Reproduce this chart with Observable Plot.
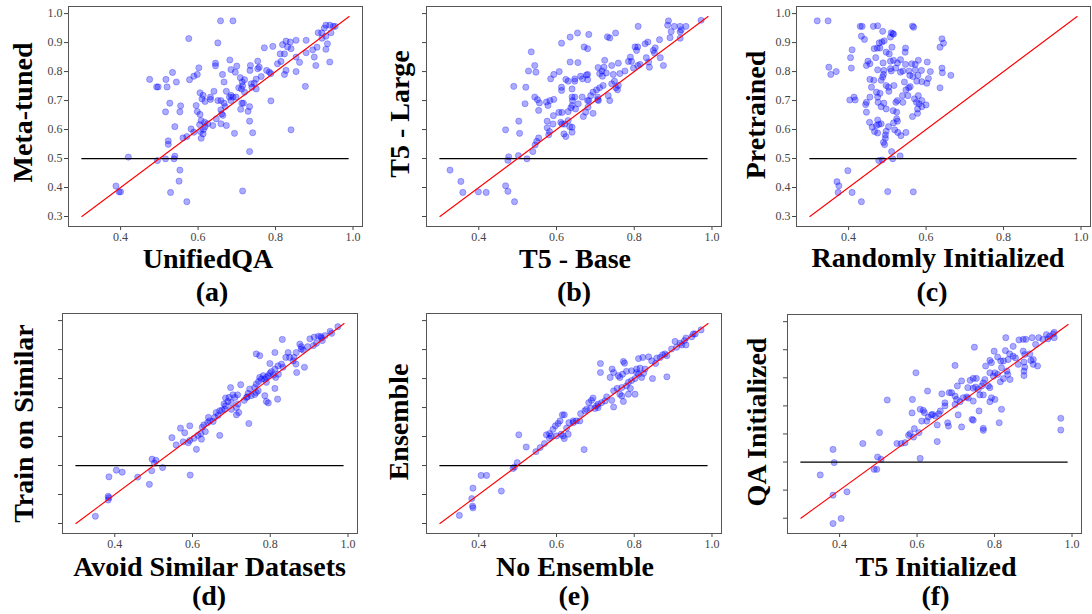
<!DOCTYPE html>
<html>
<head>
<meta charset="utf-8">
<script src="https://cdn.jsdelivr.net/npm/d3@7"></script>
<script src="https://cdn.jsdelivr.net/npm/@observablehq/plot@0.6"></script>
<style>
  html, body { margin: 0; padding: 0; background: #fff; }
  #chart { position: relative; width: 1092px; height: 614px; overflow: hidden; background: #fff; }
  .panel { position: absolute; }
  #labels { position: absolute; left: 0; top: 0; pointer-events: none; }
  #labels text { font-family: "Liberation Serif", "Times New Roman", serif; font-weight: bold; font-size: 28px; fill: #000; }
</style>
</head>
<body>
<div id="chart"></div>
<script>
// ---------- labels ----------
const xLabels = ["UnifiedQA", "T5 - Base", "Randomly Initialized", "Avoid Similar Datasets", "No Ensemble", "T5 Initialized"];
const yLabels = ["Meta-tuned", "T5 - Large", "Pretrained", "Train on Similar", "Ensemble", "QA Initialized"];
const captions = ["(a)", "(b)", "(c)", "(d)", "(e)", "(f)"];
const xTicks = [0.4, 0.6, 0.8, 1.0];
const yTicks = [0.3, 0.4, 0.5, 0.6, 0.7, 0.8, 0.9, 1.0];
const diagonal = [[0.3, 0.3], [0.99, 0.99]];
const chance = 0.5;
const chanceSpan = [0.3, 0.99];

// ---------- data: [x, y] per task ----------
const aPoints = [[0.658,0.975],[0.69,0.975],[0.576,0.914],[0.651,0.899],[0.475,0.773],[0.493,0.747],[0.497,0.747],[0.517,0.773],[0.52,0.747],[0.534,0.797],[0.544,0.764],[0.527,0.691],[0.516,0.661],[0.553,0.661],[0.555,0.682],[0.54,0.61],[0.523,0.561],[0.523,0.549],[0.54,0.508],[0.538,0.499],[0.516,0.499],[0.495,0.493],[0.42,0.505],[0.388,0.405],[0.396,0.385],[0.4,0.385],[0.529,0.383],[0.553,0.46],[0.551,0.422],[0.571,0.351],[0.715,0.388],[0.733,0.524],[0.84,0.599],[0.788,0.699],[0.877,0.749],[0.578,0.772],[0.589,0.784],[0.598,0.79],[0.602,0.813],[0.645,0.829],[0.645,0.82],[0.663,0.79],[0.682,0.84],[0.685,0.807],[0.7,0.819],[0.696,0.798],[0.709,0.779],[0.72,0.772],[0.734,0.804],[0.735,0.821],[0.754,0.836],[0.758,0.815],[0.771,0.882],[0.793,0.887],[0.805,0.827],[0.788,0.793],[0.777,0.804],[0.745,0.76],[0.737,0.758],[0.763,0.783],[0.784,0.798],[0.814,0.835],[0.818,0.893],[0.827,0.905],[0.838,0.902],[0.84,0.879],[0.831,0.885],[0.853,0.908],[0.823,0.861],[0.812,0.861],[0.823,0.79],[0.827,0.804],[0.853,0.8],[0.853,0.85],[0.862,0.832],[0.879,0.908],[0.879,0.865],[0.896,0.875],[0.9,0.85],[0.907,0.884],[0.904,0.821],[0.93,0.877],[0.934,0.896],[0.94,0.833],[0.91,0.934],[0.919,0.934],[0.926,0.95],[0.93,0.96],[0.94,0.96],[0.949,0.956],[0.943,0.934],[0.93,0.922],[0.954,0.956],[0.92,0.915],[0.561,0.571],[0.571,0.576],[0.582,0.602],[0.589,0.591],[0.608,0.57],[0.606,0.593],[0.614,0.6],[0.598,0.662],[0.595,0.683],[0.605,0.652],[0.605,0.727],[0.613,0.718],[0.61,0.706],[0.618,0.697],[0.617,0.625],[0.618,0.61],[0.608,0.631],[0.604,0.617],[0.632,0.712],[0.632,0.704],[0.641,0.732],[0.651,0.7],[0.659,0.7],[0.647,0.637],[0.659,0.62],[0.659,0.668],[0.661,0.654],[0.664,0.649],[0.667,0.691],[0.67,0.679],[0.673,0.732],[0.667,0.764],[0.681,0.712],[0.685,0.7],[0.69,0.712],[0.694,0.587],[0.698,0.712],[0.705,0.744],[0.715,0.751],[0.714,0.764],[0.71,0.67],[0.713,0.691],[0.717,0.691],[0.72,0.729],[0.729,0.663],[0.733,0.679],[0.733,0.629],[0.741,0.589],[0.739,0.746],[0.75,0.74],[0.75,0.774],[0.754,0.81],[0.712,0.74],[0.638,0.614],[0.625,0.62],[0.613,0.585],[0.673,0.614],[0.685,0.718]];

const bPoints = [[0.972,0.977],[0.888,0.975],[0.886,0.96],[0.903,0.956],[0.918,0.956],[0.933,0.956],[0.895,0.938],[0.918,0.937],[0.921,0.944],[0.892,0.917],[0.918,0.915],[0.81,0.956],[0.865,0.91],[0.854,0.882],[0.849,0.873],[0.835,0.902],[0.828,0.896],[0.802,0.885],[0.809,0.885],[0.806,0.873],[0.852,0.864],[0.867,0.848],[0.875,0.821],[0.839,0.815],[0.837,0.833],[0.831,0.848],[0.815,0.825],[0.809,0.821],[0.798,0.812],[0.79,0.85],[0.785,0.835],[0.793,0.835],[0.776,0.802],[0.763,0.793],[0.759,0.829],[0.752,0.933],[0.737,0.916],[0.731,0.92],[0.724,0.839],[0.722,0.815],[0.717,0.802],[0.707,0.814],[0.711,0.793],[0.728,0.795],[0.742,0.821],[0.746,0.79],[0.749,0.767],[0.742,0.758],[0.759,0.752],[0.753,0.744],[0.757,0.737],[0.72,0.752],[0.711,0.744],[0.703,0.737],[0.694,0.729],[0.688,0.717],[0.706,0.712],[0.708,0.7],[0.733,0.717],[0.737,0.7],[0.718,0.784],[0.677,0.788],[0.68,0.772],[0.68,0.79],[0.667,0.775],[0.662,0.784],[0.647,0.775],[0.647,0.767],[0.63,0.767],[0.624,0.773],[0.613,0.746],[0.613,0.735],[0.64,0.74],[0.64,0.712],[0.647,0.712],[0.666,0.712],[0.68,0.7],[0.683,0.7],[0.681,0.677],[0.675,0.66],[0.669,0.645],[0.694,0.656],[0.656,0.689],[0.641,0.7],[0.64,0.683],[0.637,0.675],[0.649,0.671],[0.63,0.662],[0.614,0.659],[0.606,0.659],[0.592,0.648],[0.611,0.625],[0.614,0.619],[0.63,0.631],[0.621,0.619],[0.634,0.61],[0.64,0.608],[0.64,0.591],[0.619,0.585],[0.624,0.576],[0.591,0.619],[0.576,0.629],[0.576,0.606],[0.582,0.593],[0.58,0.582],[0.554,0.571],[0.549,0.559],[0.545,0.547],[0.539,0.524],[0.503,0.629],[0.505,0.587],[0.469,0.599],[0.477,0.506],[0.475,0.494],[0.502,0.51],[0.524,0.499],[0.49,0.749],[0.521,0.746],[0.519,0.689],[0.528,0.802],[0.535,0.868],[0.544,0.821],[0.547,0.798],[0.544,0.712],[0.551,0.703],[0.556,0.692],[0.554,0.666],[0.574,0.695],[0.578,0.683],[0.583,0.7],[0.593,0.704],[0.585,0.775],[0.593,0.79],[0.607,0.8],[0.613,0.898],[0.635,0.919],[0.654,0.933],[0.683,0.928],[0.671,0.885],[0.68,0.879],[0.635,0.833],[0.655,0.831],[0.326,0.46],[0.354,0.421],[0.359,0.383],[0.399,0.385],[0.419,0.383],[0.469,0.406],[0.475,0.387],[0.492,0.351],[0.706,0.703]];

const cPoints = [[0.319,0.975],[0.347,0.975],[0.349,0.815],[0.354,0.79],[0.368,0.8],[0.409,0.875],[0.405,0.848],[0.407,0.812],[0.403,0.702],[0.414,0.712],[0.417,0.702],[0.37,0.42],[0.375,0.406],[0.373,0.383],[0.398,0.458],[0.409,0.383],[0.433,0.351],[0.501,0.386],[0.567,0.385],[0.478,0.493],[0.487,0.495],[0.511,0.524],[0.514,0.499],[0.533,0.509],[0.43,0.956],[0.435,0.956],[0.464,0.956],[0.475,0.958],[0.565,0.957],[0.568,0.953],[0.433,0.922],[0.441,0.911],[0.488,0.939],[0.51,0.934],[0.514,0.931],[0.508,0.919],[0.516,0.929],[0.479,0.899],[0.486,0.902],[0.492,0.906],[0.466,0.879],[0.474,0.881],[0.481,0.881],[0.497,0.867],[0.505,0.861],[0.512,0.884],[0.547,0.881],[0.546,0.867],[0.45,0.836],[0.455,0.827],[0.446,0.821],[0.47,0.848],[0.489,0.83],[0.508,0.836],[0.516,0.839],[0.526,0.83],[0.534,0.841],[0.547,0.825],[0.475,0.806],[0.491,0.804],[0.508,0.81],[0.51,0.802],[0.522,0.812],[0.534,0.798],[0.54,0.802],[0.556,0.802],[0.563,0.827],[0.572,0.825],[0.58,0.839],[0.572,0.806],[0.579,0.787],[0.588,0.804],[0.603,0.833],[0.611,0.8],[0.606,0.776],[0.602,0.76],[0.589,0.765],[0.576,0.767],[0.566,0.783],[0.558,0.787],[0.544,0.764],[0.555,0.744],[0.548,0.737],[0.539,0.717],[0.526,0.7],[0.522,0.694],[0.517,0.752],[0.503,0.746],[0.504,0.732],[0.497,0.752],[0.488,0.781],[0.484,0.77],[0.49,0.79],[0.465,0.77],[0.455,0.773],[0.459,0.746],[0.472,0.729],[0.481,0.725],[0.475,0.712],[0.455,0.712],[0.446,0.694],[0.444,0.686],[0.446,0.66],[0.476,0.694],[0.491,0.691],[0.484,0.679],[0.497,0.671],[0.515,0.665],[0.524,0.66],[0.524,0.637],[0.526,0.629],[0.516,0.623],[0.503,0.61],[0.497,0.594],[0.495,0.581],[0.495,0.57],[0.49,0.556],[0.493,0.548],[0.519,0.599],[0.527,0.59],[0.535,0.579],[0.548,0.59],[0.484,0.62],[0.475,0.633],[0.478,0.618],[0.472,0.614],[0.461,0.608],[0.467,0.593],[0.475,0.588],[0.454,0.625],[0.565,0.645],[0.578,0.656],[0.578,0.671],[0.582,0.689],[0.575,0.694],[0.589,0.679],[0.58,0.717],[0.589,0.7],[0.6,0.685],[0.57,0.706],[0.553,0.717],[0.559,0.748],[0.54,0.694],[0.636,0.744],[0.636,0.884],[0.641,0.913],[0.645,0.898],[0.641,0.812],[0.642,0.796],[0.664,0.787]];

const dPoints = [[0.974,0.979],[0.954,0.963],[0.958,0.956],[0.941,0.948],[0.932,0.94],[0.924,0.946],[0.913,0.943],[0.902,0.937],[0.934,0.931],[0.919,0.922],[0.911,0.914],[0.896,0.91],[0.876,0.919],[0.88,0.902],[0.885,0.898],[0.867,0.89],[0.831,0.935],[0.812,0.89],[0.846,0.89],[0.84,0.873],[0.85,0.873],[0.859,0.861],[0.866,0.85],[0.888,0.839],[0.868,0.821],[0.829,0.85],[0.833,0.839],[0.82,0.844],[0.799,0.852],[0.812,0.833],[0.803,0.824],[0.799,0.818],[0.808,0.812],[0.814,0.804],[0.821,0.815],[0.795,0.81],[0.79,0.804],[0.782,0.81],[0.773,0.804],[0.777,0.798],[0.764,0.885],[0.773,0.879],[0.786,0.798],[0.79,0.787],[0.812,0.766],[0.819,0.729],[0.79,0.721],[0.795,0.716],[0.786,0.741],[0.769,0.758],[0.764,0.752],[0.76,0.769],[0.764,0.781],[0.77,0.79],[0.747,0.764],[0.743,0.749],[0.751,0.741],[0.739,0.735],[0.733,0.725],[0.724,0.779],[0.716,0.744],[0.709,0.735],[0.704,0.744],[0.698,0.769],[0.694,0.735],[0.685,0.733],[0.691,0.721],[0.7,0.717],[0.713,0.7],[0.719,0.683],[0.713,0.675],[0.7,0.694],[0.685,0.706],[0.683,0.694],[0.676,0.691],[0.67,0.689],[0.681,0.712],[0.661,0.683],[0.657,0.666],[0.644,0.654],[0.641,0.666],[0.629,0.64],[0.625,0.632],[0.621,0.61],[0.614,0.604],[0.604,0.594],[0.593,0.587],[0.589,0.579],[0.576,0.582],[0.58,0.613],[0.569,0.629],[0.593,0.637],[0.547,0.596],[0.558,0.571],[0.67,0.604],[0.745,0.645],[0.61,0.556],[0.496,0.522],[0.506,0.518],[0.502,0.508],[0.523,0.493],[0.495,0.482],[0.489,0.435],[0.594,0.467],[0.459,0.46],[0.404,0.484],[0.419,0.477],[0.385,0.461],[0.383,0.394],[0.385,0.389],[0.383,0.381],[0.35,0.325],[0.623,0.591],[0.653,0.652],[0.666,0.673],[0.93,0.945],[0.861,0.873],[0.88,0.91],[0.717,0.712],[0.741,0.737],[0.76,0.745],[0.633,0.617],[0.639,0.648]];

const ePoints = [[0.972,0.968],[0.952,0.954],[0.957,0.954],[0.933,0.94],[0.929,0.931],[0.905,0.928],[0.918,0.922],[0.933,0.916],[0.909,0.908],[0.896,0.902],[0.879,0.885],[0.884,0.879],[0.867,0.873],[0.837,0.875],[0.811,0.869],[0.822,0.873],[0.845,0.861],[0.855,0.852],[0.772,0.859],[0.775,0.853],[0.713,0.852],[0.713,0.821],[0.743,0.833],[0.747,0.821],[0.738,0.804],[0.759,0.81],[0.763,0.804],[0.77,0.815],[0.78,0.825],[0.793,0.827],[0.806,0.833],[0.815,0.836],[0.828,0.833],[0.811,0.815],[0.819,0.804],[0.802,0.8],[0.793,0.793],[0.785,0.787],[0.78,0.775],[0.768,0.769],[0.79,0.766],[0.847,0.8],[0.884,0.806],[0.747,0.758],[0.763,0.746],[0.768,0.74],[0.785,0.746],[0.802,0.746],[0.772,0.721],[0.747,0.702],[0.742,0.725],[0.729,0.737],[0.725,0.723],[0.716,0.717],[0.707,0.712],[0.703,0.706],[0.694,0.733],[0.69,0.725],[0.683,0.717],[0.688,0.698],[0.699,0.697],[0.677,0.694],[0.673,0.689],[0.662,0.679],[0.66,0.654],[0.651,0.654],[0.643,0.654],[0.632,0.648],[0.62,0.675],[0.615,0.675],[0.609,0.654],[0.604,0.645],[0.597,0.637],[0.591,0.625],[0.626,0.629],[0.63,0.608],[0.617,0.602],[0.62,0.593],[0.612,0.608],[0.6,0.602],[0.586,0.602],[0.574,0.606],[0.582,0.594],[0.569,0.576],[0.558,0.562],[0.547,0.548],[0.522,0.564],[0.503,0.606],[0.671,0.555],[0.499,0.51],[0.492,0.495],[0.488,0.49],[0.406,0.466],[0.42,0.466],[0.385,0.422],[0.382,0.386],[0.384,0.36],[0.385,0.354],[0.458,0.412],[0.35,0.328],[0.873,0.882],[0.858,0.871],[0.922,0.916],[0.948,0.944],[0.707,0.7],[0.806,0.821],[0.824,0.818],[0.756,0.766],[0.643,0.648],[0.582,0.61]];

const fPoints = [[0.383,0.281],[0.404,0.299],[0.35,0.454],[0.383,0.382],[0.419,0.394],[0.383,0.545],[0.386,0.498],[0.46,0.566],[0.503,0.605],[0.498,0.518],[0.489,0.474],[0.496,0.474],[0.507,0.51],[0.608,0.513],[0.523,0.721],[0.548,0.566],[0.559,0.566],[0.569,0.569],[0.578,0.595],[0.582,0.601],[0.591,0.589],[0.593,0.619],[0.605,0.605],[0.587,0.675],[0.588,0.723],[0.597,0.818],[0.627,0.753],[0.608,0.688],[0.616,0.684],[0.619,0.676],[0.629,0.66],[0.637,0.668],[0.64,0.67],[0.625,0.646],[0.612,0.646],[0.647,0.664],[0.656,0.672],[0.66,0.682],[0.652,0.632],[0.652,0.573],[0.672,0.711],[0.672,0.7],[0.664,0.743],[0.679,0.64],[0.681,0.628],[0.683,0.747],[0.689,0.747],[0.698,0.735],[0.702,0.723],[0.698,0.705],[0.706,0.668],[0.715,0.625],[0.711,0.715],[0.719,0.729],[0.704,0.771],[0.728,0.732],[0.732,0.728],[0.715,0.789],[0.731,0.765],[0.737,0.791],[0.745,0.798],[0.751,0.767],[0.753,0.798],[0.745,0.763],[0.745,0.717],[0.742,0.652],[0.745,0.649],[0.76,0.682],[0.771,0.62],[0.771,0.613],[0.762,0.739],[0.771,0.739],[0.758,0.759],[0.767,0.771],[0.771,0.782],[0.775,0.794],[0.784,0.771],[0.788,0.765],[0.792,0.729],[0.788,0.715],[0.812,0.64],[0.818,0.688],[0.801,0.723],[0.815,0.786],[0.808,0.812],[0.797,0.806],[0.801,0.818],[0.788,0.818],[0.777,0.842],[0.788,0.862],[0.792,0.854],[0.799,0.895],[0.808,0.874],[0.816,0.86],[0.818,0.836],[0.823,0.86],[0.828,0.897],[0.835,0.865],[0.839,0.885],[0.848,0.912],[0.854,0.871],[0.834,0.812],[0.84,0.794],[0.832,0.824],[0.823,0.797],[0.748,0.909],[0.698,0.844],[0.829,0.943],[0.863,0.935],[0.874,0.937],[0.881,0.937],[0.897,0.943],[0.914,0.943],[0.925,0.937],[0.934,0.954],[0.942,0.948],[0.951,0.956],[0.954,0.962],[0.954,0.943],[0.938,0.939],[0.906,0.919],[0.874,0.895],[0.878,0.883],[0.891,0.885],[0.894,0.862],[0.9,0.865],[0.876,0.856],[0.878,0.838],[0.876,0.824],[0.876,0.808],[0.911,0.842],[0.9,0.848],[0.971,0.656],[0.971,0.614],[0.848,0.877],[0.861,0.848]];

const panelData = [aPoints, bPoints, cPoints, dPoints, ePoints, fPoints];

// ---------- layout (positions only) ----------
const W = 364, H = 250;
const layout = [
  {left: 0,   top: 0,   ml: 68, mr: 2,  mt: 6, yLab: true,  yDom: [0.2655, 1.0245]},
  {left: 364, top: 0,   ml: 62, mr: 7,  mt: 6, yLab: false, yDom: [0.2655, 1.0245]},
  {left: 728, top: 0,   ml: 68, mr: 2,  mt: 6, yLab: true,  yDom: [0.2655, 1.0245]},
  {left: 0,   top: 307, ml: 62, mr: 7,  mt: 6, yLab: false, yDom: [0.2655, 1.0245]},
  {left: 364, top: 307, ml: 62, mr: 7,  mt: 6, yLab: false, yDom: [0.2655, 1.0245]},
  {left: 728, top: 307, ml: 59, mr: 11, mt: 7, yLab: false, yDom: [0.2455, 1.0255]}
];
const xLabelPos = [[208, 268], [575, 268], [938, 267], [209.5, 576], [575, 576], [936, 576]];
const captionPos = [[212, 301], [574, 301], [932, 301], [209, 605], [574, 605], [935.5, 605]];
const yLabelPos = [[32, 112.5], [409, 114], [765, 115], [33, 423.5], [408, 422], [766, 422]];

const chart = document.getElementById("chart");

panelData.forEach((pts, i) => {
  const L = layout[i];
  const svg = Plot.plot({
    width: W,
    height: H,
    marginLeft: L.ml,
    marginRight: L.mr,
    marginTop: L.mt,
    marginBottom: 24,
    style: {fontFamily: "'Liberation Serif', 'Times New Roman', serif", fontSize: "12px", color: "#444", background: "transparent"},
    x: {domain: [0.2655, 1.0245], ticks: xTicks, tickFormat: d3.format(".1f"), tickSize: 4, tickPadding: 2, label: null},
    y: {domain: L.yDom, ticks: yTicks, tickFormat: L.yLab ? d3.format(".1f") : () => "", tickSize: 4, tickPadding: 2, label: null},
    marks: [
      Plot.dot(pts, {x: d => d[0], y: d => d[1], r: 3.1, fill: "#0000ff", fillOpacity: 0.33, stroke: "#0000ff", strokeOpacity: 0.3, strokeWidth: 0.9}),
      Plot.ruleY([chance], {x1: chanceSpan[0], x2: chanceSpan[1], stroke: "#000", strokeWidth: 1.2}),
      Plot.line(diagonal, {x: d => d[0], y: d => d[1], stroke: "#ff0000", strokeWidth: 1.1}),
      Plot.frame({stroke: "#555", strokeWidth: 1})
    ]
  });
  const div = document.createElement("div");
  div.className = "panel";
  div.style.left = L.left + "px";
  div.style.top = L.top + "px";
  div.appendChild(svg);
  chart.appendChild(div);
});

// ---------- text labels overlay ----------
const overlay = d3.select(chart).append("svg")
  .attr("id", "labels")
  .attr("width", 1092)
  .attr("height", 614);

xLabels.forEach((t, i) => {
  overlay.append("text").attr("x", xLabelPos[i][0]).attr("y", xLabelPos[i][1])
    .attr("text-anchor", "middle").text(t);
  overlay.append("text").attr("x", captionPos[i][0]).attr("y", captionPos[i][1])
    .attr("text-anchor", "middle").text(captions[i]);
  overlay.append("text")
    .attr("transform", `translate(${yLabelPos[i][0]},${yLabelPos[i][1]}) rotate(-90)`)
    .attr("text-anchor", "middle").text(yLabels[i]);
});
</script>
</body>
</html>
